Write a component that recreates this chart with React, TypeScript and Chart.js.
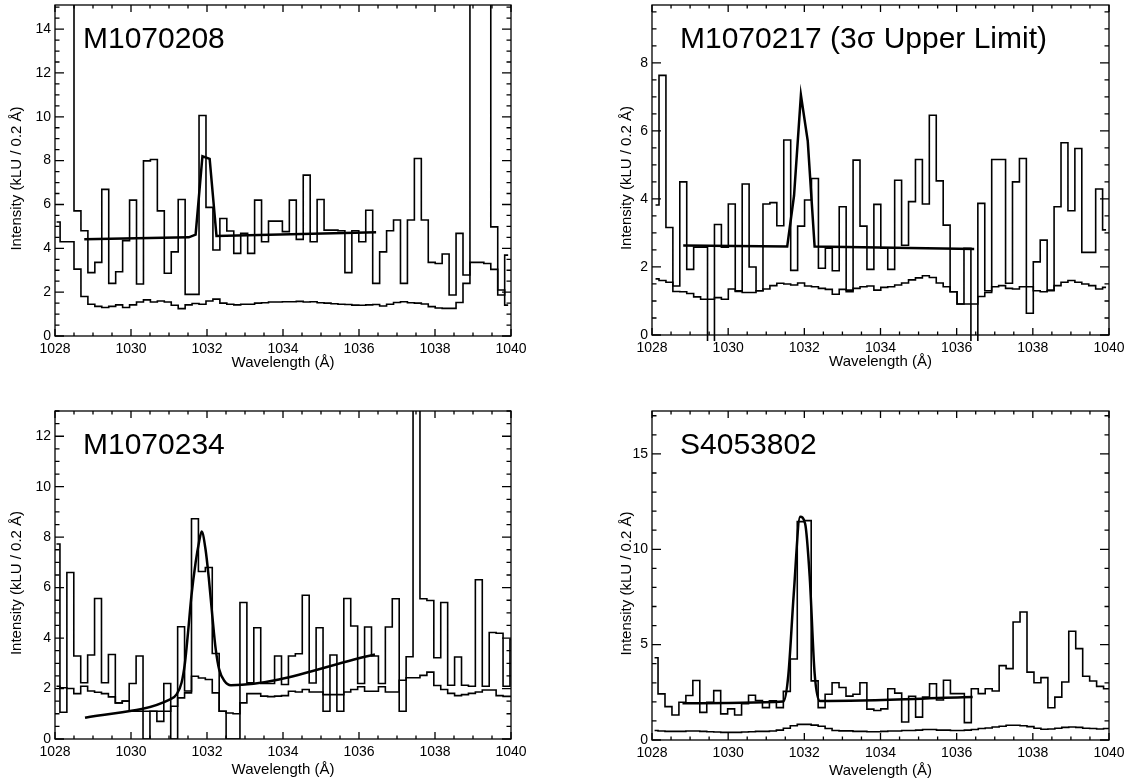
import React, { useEffect, useRef } from "react";
import { Chart, registerables } from "chart.js";
Chart.register(...registerables);

const FONT = "'Liberation Sans', Arial, Helvetica, sans-serif";

// ---------- shared axis data ----------
const xTickValues = [1028, 1030, 1032, 1034, 1036, 1038, 1040];
const xTitle = "Wavelength (Å)";
const yTitle = "Intensity (kLU / 0.2 Å)";

// ---------- Panel 1: M1070208 ----------
const p1Label = "M1070208";
const p1FirstCenter = 1028.043;
const p1BinWidth = 0.1828;
const p1Flux = [20, 20, 20, 5.71, 4.8, 2.89, 3.36, 6.69, 2.4, 2.93, 4.35, 6.2, 2.37, 7.99, 8.05, 5.71, 2.86, 3.84, 6.23, 1.9, 1.9, 10.06, 5.87, 3.92, 5.36, 4.79, 3.77, 4.68, 3.77, 6.2, 4.3, 5.24, 5.24, 4.76, 6.2, 4.41, 7.34, 4.3, 6.23, 4.83, 4.83, 4.8, 2.89, 4.8, 4.3, 5.74, 2.4, 3.84, 4.8, 5.29, 2.4, 5.29, 8.1, 5.29, 3.36, 3.31, 3.74, 1.87, 4.68, 2.78, 20, 20, 20, 4.98, 1.87, 3.69];
const p1Error = [5.2, 4.3, 4.3, 3.05, 1.8, 1.45, 1.35, 1.3, 1.35, 1.42, 1.3, 1.42, 1.55, 1.65, 1.55, 1.6, 1.55, 1.4, 1.25, 1.42, 1.48, 1.45, 1.6, 1.68, 1.5, 1.45, 1.42, 1.45, 1.45, 1.5, 1.52, 1.55, 1.55, 1.56, 1.56, 1.58, 1.55, 1.56, 1.52, 1.5, 1.47, 1.45, 1.44, 1.41, 1.4, 1.42, 1.44, 1.37, 1.45, 1.53, 1.56, 1.52, 1.5, 1.46, 1.34, 1.28, 1.26, 1.26, 1.53, 2.4, 3.36, 3.36, 3.31, 3.04, 2.1, 1.41];
const p1FitWave = [1028.77, 1031.52, 1031.7, 1031.88, 1032.07, 1032.25, 1036.45];
const p1FitFlux = [4.41, 4.5, 4.62, 8.2, 8.08, 4.56, 4.73];
const p1YTicks = [0, 2, 4, 6, 8, 10, 12, 14];

// ---------- Panel 2: M1070217 (3σ Upper Limit) ----------
const p2Label = "M1070217 (3σ Upper Limit)";
const p2FirstCenter = 1028.093;
const p2BinWidth = 0.182;
const p2Flux = [3.82, 7.63, 3.16, 1.44, 4.5, 1.93, 2.58, 2.58, -1, 3.25, 2.58, 3.85, 1.3, 4.44, 2.0, 1.3, 3.85, 3.89, 3.21, 5.73, 1.9, 3.2, 3.97, 4.6, 1.96, 2.55, 1.89, 3.77, 1.27, 5.14, 3.2, 1.93, 3.84, 2.55, 1.93, 4.55, 2.64, 3.92, 5.16, 3.85, 6.46, 4.53, 3.23, 1.27, 0.91, 2.55, -1, 3.87, 1.3, 5.16, 5.16, 1.52, 4.5, 5.19, 0.64, 2.15, 2.79, 1.32, 3.77, 5.65, 3.65, 5.48, 2.43, 2.43, 4.29, 3.09];
const p2Error = [1.65, 1.6, 1.55, 1.28, 1.27, 1.22, 1.12, 1.05, 1.05, 1.1, 1.05, 1.35, 1.28, 1.25, 1.25, 1.3, 1.35, 1.45, 1.52, 1.5, 1.47, 1.53, 1.44, 1.42, 1.37, 1.34, 1.2, 1.34, 1.32, 1.37, 1.42, 1.44, 1.32, 1.4, 1.42, 1.47, 1.53, 1.62, 1.68, 1.74, 1.69, 1.53, 1.42, 1.27, 0.91, 0.91, 0.91, 1.13, 1.25, 1.42, 1.45, 1.37, 1.35, 1.42, 1.42, 1.3, 1.27, 1.3, 1.45, 1.55, 1.6, 1.55, 1.5, 1.45, 1.35, 1.4];
const p2FitWave = [1028.82, 1031.55, 1031.73, 1031.91, 1032.09, 1032.27, 1036.46];
const p2FitFlux = [2.63, 2.6, 4.1, 7.05, 5.7, 2.6, 2.53];
const p2YTicks = [0, 2, 4, 6, 8];

// ---------- Panel 3: M1070234 ----------
const p3Label = "M1070234";
const p3FirstCenter = 1028.039;
const p3BinWidth = 0.1822;
const p3Flux = [7.73, 1.06, 6.6, 3.29, 2.23, 3.33, 5.57, 2.23, 3.35, 1.43, 1.5, 2.2, 3.29, 0, 1.1, 0.7, 2.2, 0, 4.45, 1.9, 8.73, 6.64, 6.8, 3.39, 1.1, 0, 0, 5.41, 2.23, 4.41, 2.2, 2.2, 3.29, 2.16, 3.29, 3.38, 5.7, 2.22, 4.41, 1.1, 3.33, 1.1, 5.57, 4.48, 2.2, 4.44, 3.29, 2.2, 4.44, 5.56, 1.1, 3.26, 20, 5.56, 5.49, 3.22, 5.41, 2.13, 3.25, 2.13, 2.09, 6.31, 2.09, 4.22, 4.19, 2.09, 3.95];
const p3Error = [2.09, 2.03, 2.0, 1.8, 2.09, 1.9, 1.85, 1.8, 1.67, 1.43, 1.5, 1.1, 1.1, 1.1, 1.1, 1.1, 1.1, 1.3, 1.63, 1.83, 2.49, 2.42, 2.36, 1.83, 1.1, 1.03, 1.0, 1.43, 1.8, 1.8, 1.7, 1.68, 1.7, 1.72, 1.89, 1.86, 1.96, 1.86, 1.86, 1.76, 1.76, 1.76, 1.86, 1.96, 2.07, 1.89, 1.89, 2.07, 1.86, 1.86, 2.33, 2.43, 2.43, 2.52, 2.65, 2.12, 1.96, 1.81, 1.72, 1.76, 1.81, 1.86, 1.94, 1.94, 1.72, 1.69, 1.69];
const p3FitWave = [1028.79, 1031.03, 1031.2, 1031.33, 1031.42, 1031.5, 1031.59, 1031.7, 1031.79, 1031.86, 1031.96, 1032.05, 1032.14, 1032.23, 1032.32, 1032.46, 1032.63, 1036.42];
const p3FitFlux = [0.84, 1.57, 1.77, 2.23, 3.02, 4.21, 5.67, 6.99, 7.8, 8.22, 7.53, 6.34, 4.88, 3.55, 2.76, 2.3, 2.13, 3.35];
const p3YTicks = [0, 2, 4, 6, 8, 10, 12];

// ---------- Panel 4: S4053802 ----------
const p4Label = "S4053802";
const p4FirstCenter = 1028.067;
const p4BinWidth = 0.1828;
const p4Flux = [4.31, 2.42, 1.75, 1.31, 1.98, 2.33, 3.12, 1.45, 1.98, 2.59, 1.37, 1.63, 1.31, 1.9, 2.35, 2.07, 1.7, 2.05, 1.7, 2.55, 4.25, 11.45, 11.5, 3.1, 1.7, 2.4, 3.0, 2.75, 2.3, 2.4, 3.0, 1.62, 1.55, 1.63, 2.69, 2.46, 0.94, 2.29, 1.2, 2.25, 2.95, 2.1, 3.13, 2.43, 2.43, 0.91, 2.69, 2.43, 2.69, 2.57, 3.9, 3.74, 6.19, 6.71, 3.56, 3.0, 3.27, 1.69, 2.25, 3.04, 5.7, 4.79, 3.34, 3.09, 2.81, 2.69, 3.56];
const p4Error = [0.5, 0.47, 0.45, 0.45, 0.45, 0.47, 0.47, 0.45, 0.43, 0.42, 0.4, 0.4, 0.4, 0.42, 0.43, 0.45, 0.45, 0.47, 0.52, 0.62, 0.75, 0.82, 0.82, 0.78, 0.72, 0.6, 0.5, 0.48, 0.48, 0.45, 0.45, 0.43, 0.43, 0.45, 0.47, 0.47, 0.5, 0.5, 0.52, 0.55, 0.55, 0.52, 0.52, 0.5, 0.5, 0.52, 0.55, 0.6, 0.63, 0.68, 0.72, 0.77, 0.77, 0.75, 0.7, 0.62, 0.56, 0.58, 0.62, 0.66, 0.68, 0.66, 0.62, 0.6, 0.58, 0.6, 0.6];
const p4FitWave = [1028.8, 1031.45, 1031.58, 1031.72, 1031.89, 1032.02, 1032.14, 1032.27, 1032.4, 1036.42];
const p4FitFlux = [1.93, 2.02, 3.4, 7.6, 11.7, 11.35, 8.6, 3.5, 2.05, 2.25];
const p4YTicks = [0, 5, 10, 15];

// ---------- panel layout (page pixels) ----------
type Spec = {
  label: string; first: number; width: number; flux: number[]; error: number[];
  fitWave: number[]; fitFlux: number[]; yTicks: number[]; yMax: number; yMinor: number;
  smoothFit: boolean; clipBottom: number;
  x: number; y: number; w: number; h: number; left: number; top: number; right: number; bottom: number;
  yTitleDx: number; xTitleDy: number;
};

const specs: Spec[] = [
  { label: p1Label, first: p1FirstCenter, width: p1BinWidth, flux: p1Flux, error: p1Error, fitWave: p1FitWave, fitFlux: p1FitFlux, yTicks: p1YTicks, yMax: 15.1, yMinor: 0.5, smoothFit: false, clipBottom: 0,
    x: 0, y: 0, w: 566, h: 391, left: 55, top: 5, right: 511, bottom: 336, yTitleDx: 38, xTitleDy: 27 },
  { label: p2Label, first: p2FirstCenter, width: p2BinWidth, flux: p2Flux, error: p2Error, fitWave: p2FitWave, fitFlux: p2FitFlux, yTicks: p2YTicks, yMax: 9.7, yMinor: 0.5, smoothFit: false, clipBottom: 6,
    x: 566, y: 0, w: 566, h: 391, left: 652, top: 5, right: 1109, bottom: 335, yTitleDx: 25, xTitleDy: 27 },
  { label: p3Label, first: p3FirstCenter, width: p3BinWidth, flux: p3Flux, error: p3Error, fitWave: p3FitWave, fitFlux: p3FitFlux, yTicks: p3YTicks, yMax: 13, yMinor: 0.5, smoothFit: true, clipBottom: 0,
    x: 0, y: 391, w: 566, h: 391, left: 55, top: 411, right: 511, bottom: 739, yTitleDx: 38, xTitleDy: 31 },
  { label: p4Label, first: p4FirstCenter, width: p4BinWidth, flux: p4Flux, error: p4Error, fitWave: p4FitWave, fitFlux: p4FitFlux, yTicks: p4YTicks, yMax: 17.25, yMinor: 1, smoothFit: true, clipBottom: 0,
    x: 566, y: 391, w: 566, h: 391, left: 652, top: 411, right: 1109, bottom: 740, yTitleDx: 25, xTitleDy: 31 },
];

const X_AXIS_H = 30;

const idlFrame = {
  id: "idlFrame",
  afterDraw(chart: any, _args: any, opts: any) {
    const { ctx, chartArea: a, scales } = chart;
    const xs = scales.x;
    const ys = scales.y;
    ctx.save();
    ctx.strokeStyle = "#000";
    ctx.lineWidth = 1.3;
    ctx.strokeRect(a.left, a.top, a.right - a.left, a.bottom - a.top);
    ctx.beginPath();
    // x ticks (bottom and top, pointing inward)
    const nx = Math.round((xs.max - xs.min) / 0.5);
    for (let k = 0; k <= nx; k++) {
      const v = xs.min + k * 0.5;
      const px = xs.getPixelForValue(v);
      const len = k % 4 === 0 ? 7 : 3.5;
      ctx.moveTo(px, a.bottom);
      ctx.lineTo(px, a.bottom - len);
      ctx.moveTo(px, a.top);
      ctx.lineTo(px, a.top + len);
    }
    // y ticks (left and right)
    const major = opts.yTicks[1] - opts.yTicks[0];
    const ny = Math.floor(ys.max / opts.yMinor + 1e-6);
    const per = Math.round(major / opts.yMinor);
    for (let k = 0; k <= ny; k++) {
      const v = k * opts.yMinor;
      const py = ys.getPixelForValue(v);
      const len = k % per === 0 ? 9 : 4.5;
      ctx.moveTo(a.left, py);
      ctx.lineTo(a.left + len, py);
      ctx.moveTo(a.right, py);
      ctx.lineTo(a.right - len, py);
    }
    ctx.stroke();

    ctx.fillStyle = "#000";
    // panel label
    ctx.font = `30px ${FONT}`;
    ctx.textAlign = "left";
    ctx.textBaseline = "alphabetic";
    ctx.fillText(opts.label, a.left + 28, a.top + 43);
    // x title
    ctx.font = `15px ${FONT}`;
    ctx.textAlign = "center";
    ctx.textBaseline = "middle";
    ctx.fillText(xTitle, (a.left + a.right) / 2, a.bottom + opts.xTitleDy);
    // y title
    ctx.translate(a.left - opts.yTitleDx, (a.top + a.bottom) / 2 + 8);
    ctx.rotate(-Math.PI / 2);
    ctx.fillText(yTitle, 0, 0);
    ctx.restore();
  },
};

function Panel({ s }: { s: Spec }) {
  const ref = useRef<HTMLCanvasElement>(null);
  useEffect(() => {
    const hist = (vals: number[]) => vals.map((v, i) => ({ x: s.first + i * s.width, y: v }));
    const fit = s.fitWave.map((w, i) => ({ x: w, y: s.fitFlux[i] }));
    const clip = { left: 0, top: 0, right: 0, bottom: s.clipBottom };
    const chart = new Chart(ref.current as HTMLCanvasElement, {
      type: "line",
      data: {
        datasets: [
          { data: hist(s.error), stepped: "middle", borderColor: "#000", borderWidth: 1.6, pointRadius: 0, fill: false, clip } as any,
          { data: hist(s.flux), stepped: "middle", borderColor: "#000", borderWidth: 1.6, pointRadius: 0, fill: false, clip } as any,
          { data: fit, borderColor: "#000", borderWidth: 2.5, pointRadius: 0, fill: false, clip,
            cubicInterpolationMode: s.smoothFit ? "monotone" : "default", tension: 0 } as any,
        ],
      },
      options: {
        responsive: false,
        animation: false,
        events: [],
        layout: {
          padding: {
            left: 0,
            top: s.top - s.y,
            right: s.x + s.w - s.right,
            bottom: s.y + s.h - s.bottom - X_AXIS_H,
          },
        },
        plugins: {
          legend: { display: false },
          tooltip: { enabled: false },
          title: { display: false },
          idlFrame: { label: s.label, yTicks: s.yTicks, yMinor: s.yMinor, yTitleDx: s.yTitleDx, xTitleDy: s.xTitleDy },
        } as any,
        scales: {
          x: {
            type: "linear",
            min: 1028,
            max: 1040,
            afterBuildTicks: (sc: any) => { sc.ticks = xTickValues.map((v) => ({ value: v })); },
            afterFit: (sc: any) => { sc.height = X_AXIS_H; sc.paddingLeft = 0; sc.paddingRight = 0; },
            ticks: { callback: (v: any) => String(v), color: "#000", font: { size: 14, family: FONT }, padding: 5, maxRotation: 0, autoSkip: false },
            grid: { display: false, drawTicks: false },
            border: { display: false },
          },
          y: {
            type: "linear",
            min: 0,
            max: s.yMax,
            afterBuildTicks: (sc: any) => { sc.ticks = s.yTicks.map((v) => ({ value: v })); },
            afterFit: (sc: any) => { sc.width = s.left - s.x; sc.paddingTop = 0; sc.paddingBottom = 0; },
            ticks: { callback: (v: any) => String(v), color: "#000", font: { size: 14, family: FONT }, padding: 4, autoSkip: false },
            grid: { display: false, drawTicks: false },
            border: { display: false },
          },
        } as any,
      },
      plugins: [idlFrame as any],
    });
    return () => chart.destroy();
  }, []);
  return (
    <canvas
      ref={ref}
      width={s.w}
      height={s.h}
      style={{ position: "absolute", left: s.x, top: s.y, width: s.w, height: s.h }}
    />
  );
}

export default function App() {
  return (
    <div style={{ position: "absolute", left: 0, top: 0, width: 1132, height: 782, background: "#fff", overflow: "hidden" }}>
      {specs.map((s, i) => (
        <Panel key={i} s={s} />
      ))}
    </div>
  );
}
